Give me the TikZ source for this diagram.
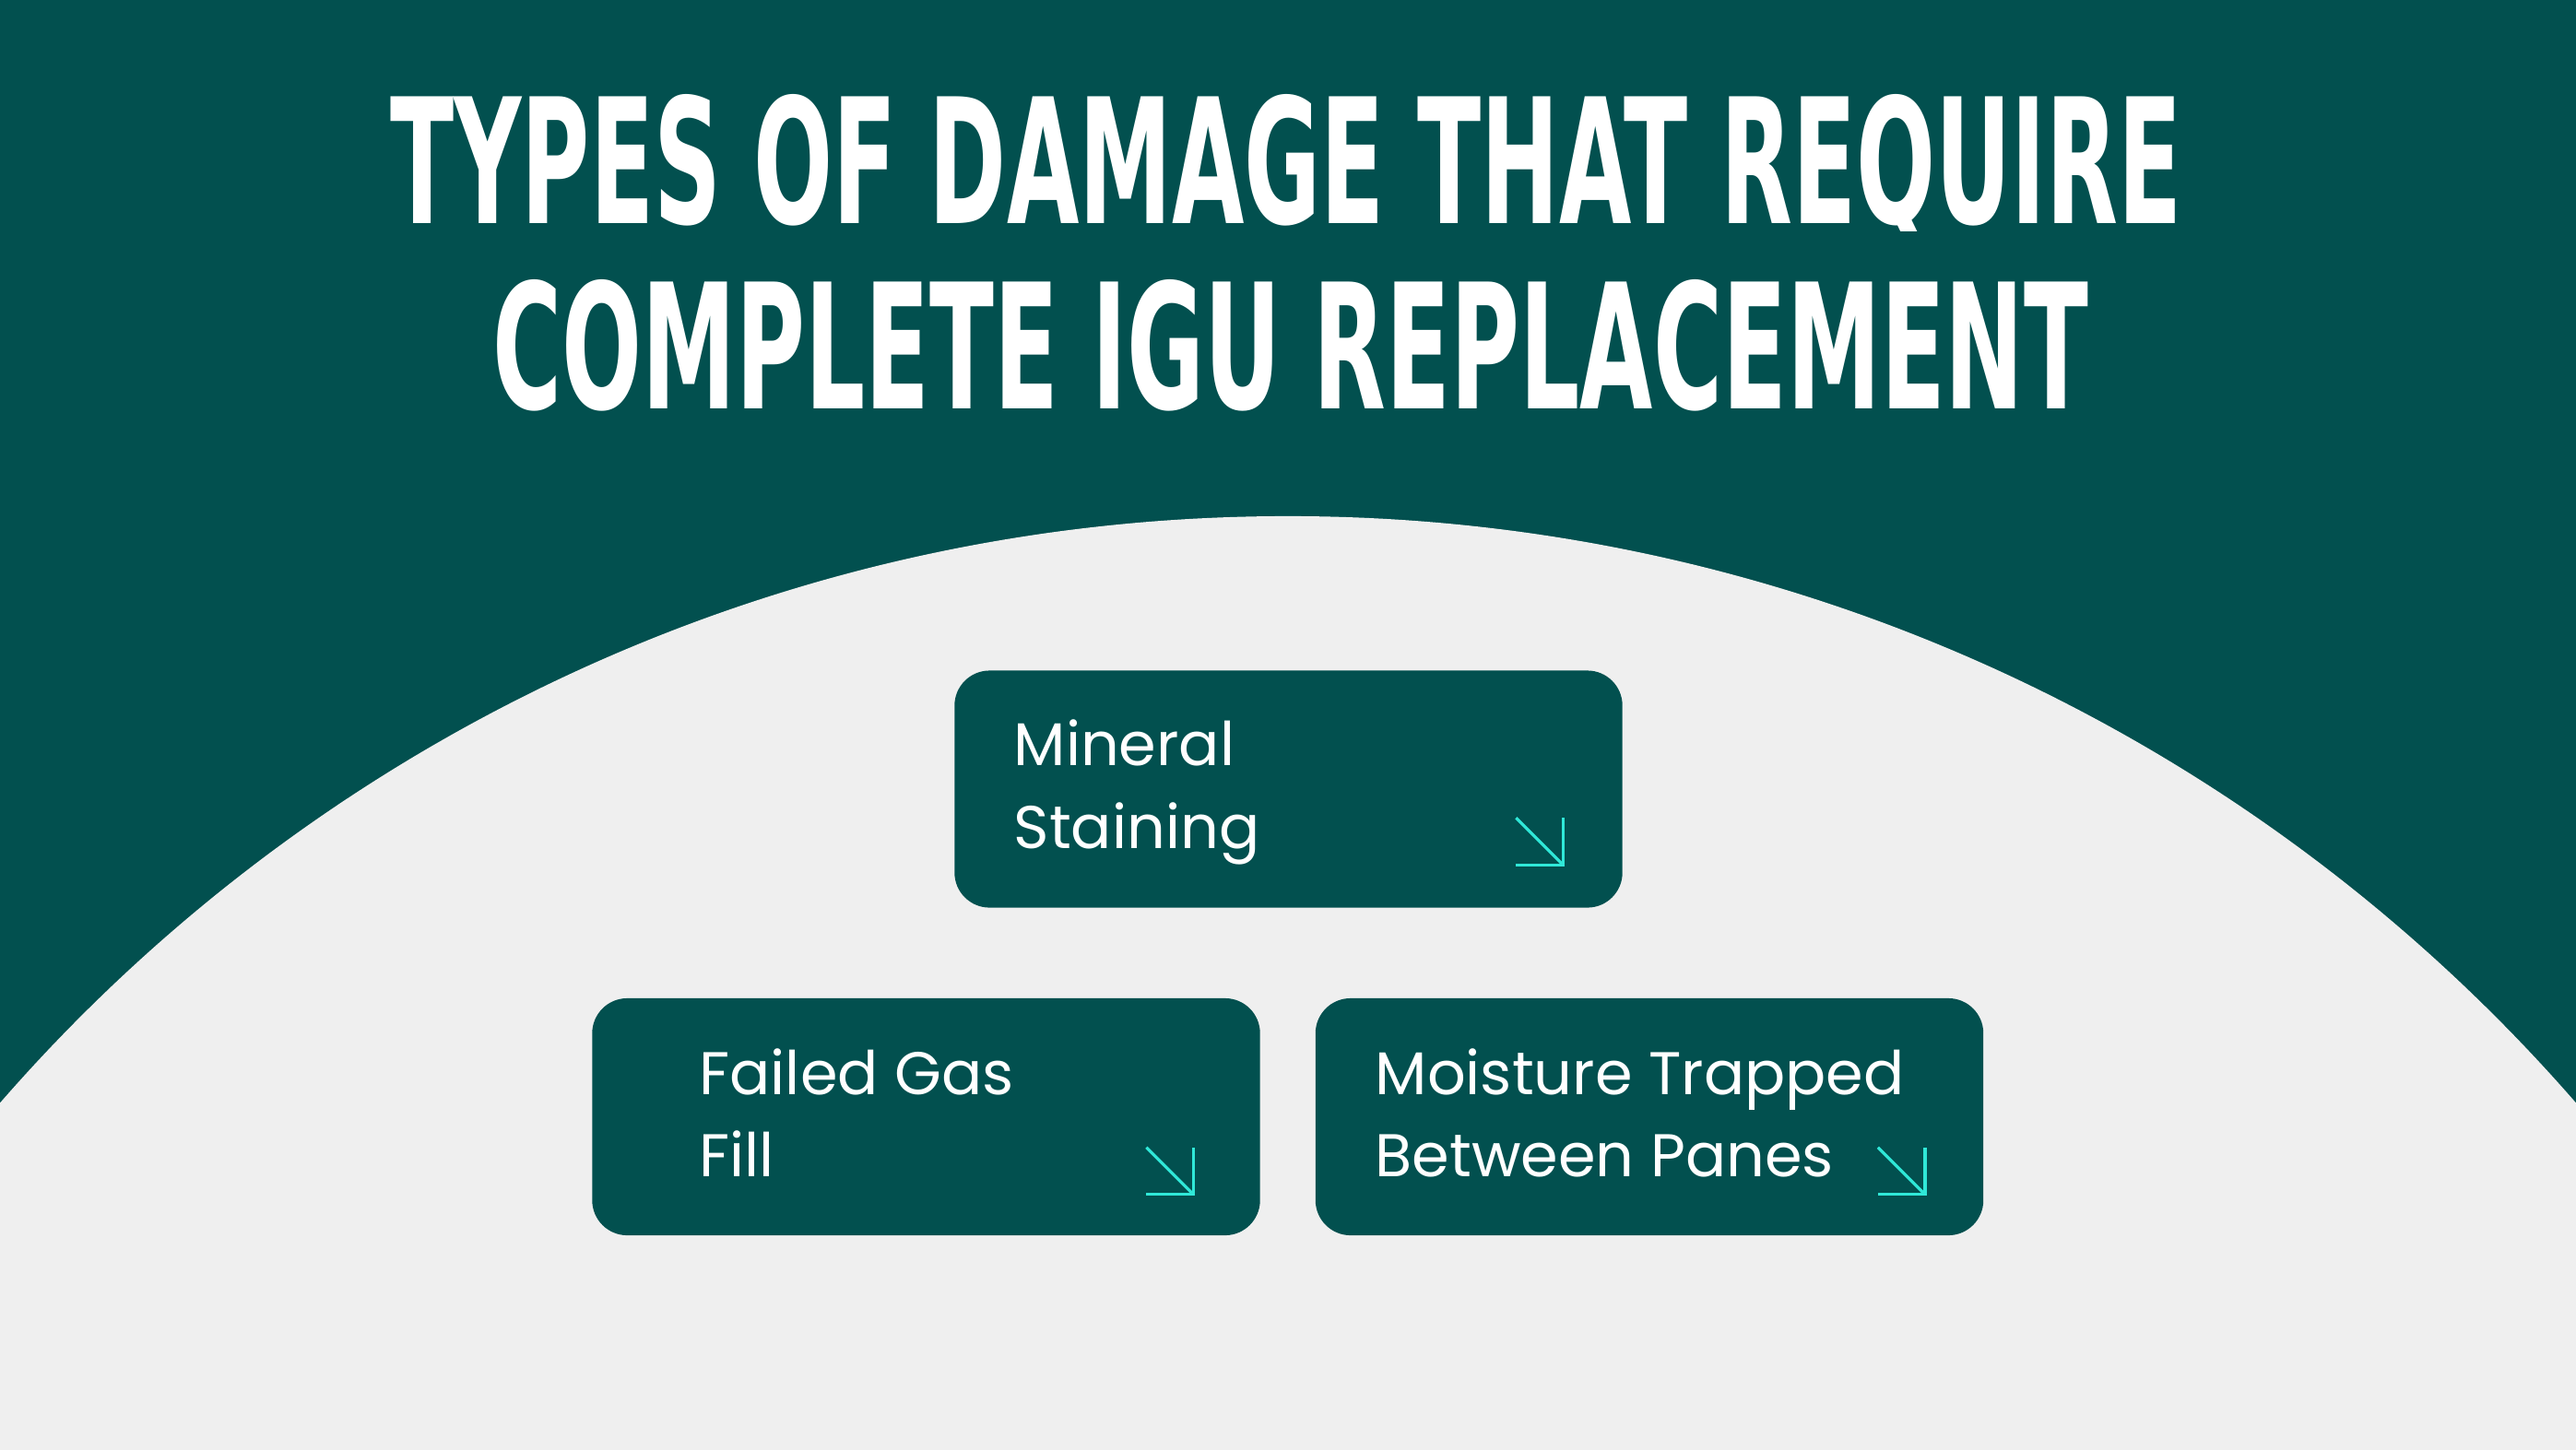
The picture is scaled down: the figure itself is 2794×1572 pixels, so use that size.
\documentclass[tikz,border=0pt]{standalone}
\usepackage{fontspec}
\usetikzlibrary{calc}
\newfontfamily\popfont{Poppins}
\newfontfamily\titlefont{DejaVu Sans}
\definecolor{tealbg}{HTML}{02504F}
\definecolor{lightbg}{HTML}{EFEFEF}
\definecolor{arrowcyan}{HTML}{30E8D8}
\tikzset{
  card/.style={fill=tealbg, draw=none, rounded corners=0.38cm, minimum width=7.24cm, minimum height=2.57cm, inner sep=0pt},
  cardtext/.style={anchor=base west, inner sep=0pt, text=white, font=\popfont\fontsize{18.6pt}{25.3pt}\selectfont},
  titletext/.style={anchor=base, inner sep=0pt, text=white},
  cornerarrow/.style={draw=arrowcyan, line width=0.9pt}
}
\newcommand{\titleline}[3]{\resizebox{#1}{#2}{\titlefont\bfseries #3}}
\begin{document}
\begin{tikzpicture}[x=0.01cm, y=-0.01cm]
\useasboundingbox (0,0) rectangle (2794,1572);
\fill[tealbg] (0,0) rectangle (2794,1572);
\begin{scope}
  \clip (0,0) rectangle (2794,1572);
  \fill[lightbg] (1397,2411) circle [radius=18.5cm];
\end{scope}

% title
\begin{scope}
  \clip (0,0) rectangle (2794,250);
  \node[titletext] (t1) at (1395,242) {\titleline{19.42cm}{1.40cm}{TYPES OF DAMAGE THAT REQUIRE}};
\end{scope}
\node[titletext] (t2) at (1400,443) {\titleline{17.30cm}{1.40cm}{COMPLETE IGU REPLACEMENT}};

% cards
\node[card] (b1) at (1397.5,856) {};
\node[card] (b2) at (1004.5,1211.5) {};
\node[card] (b3) at (1789,1211.5) {};

% texts
\node[cardtext] (b1l1) at (1099,830) {Mineral};
\node[cardtext] (b1l2) at (1099,920) {Staining};
\node[cardtext] (b2l1) at (758,1187) {Failed Gas};
\node[cardtext] (b2l2) at (758,1276) {Fill};
\node[cardtext] (b3l1) at (1491,1187) {Moisture Trapped};
\node[cardtext] (b3l2) at (1491,1276) {Between Panes};

% corner arrows
\coordinate (a1) at ($(b1.south east)+(-65,-47)$);
\coordinate (a2) at ($(b2.south east)+(-73,-45)$);
\coordinate (a3) at ($(b3.south east)+(-64,-45)$);
\foreach \c in {a1,a2,a3}{
  \draw[cornerarrow] ($(\c)+(-51,-51)$) -- (\c);
  \draw[cornerarrow] ($(\c)+(0,-51)$) -- (\c) -- ($(\c)+(-51,0)$);
}
\end{tikzpicture}
\end{document}
